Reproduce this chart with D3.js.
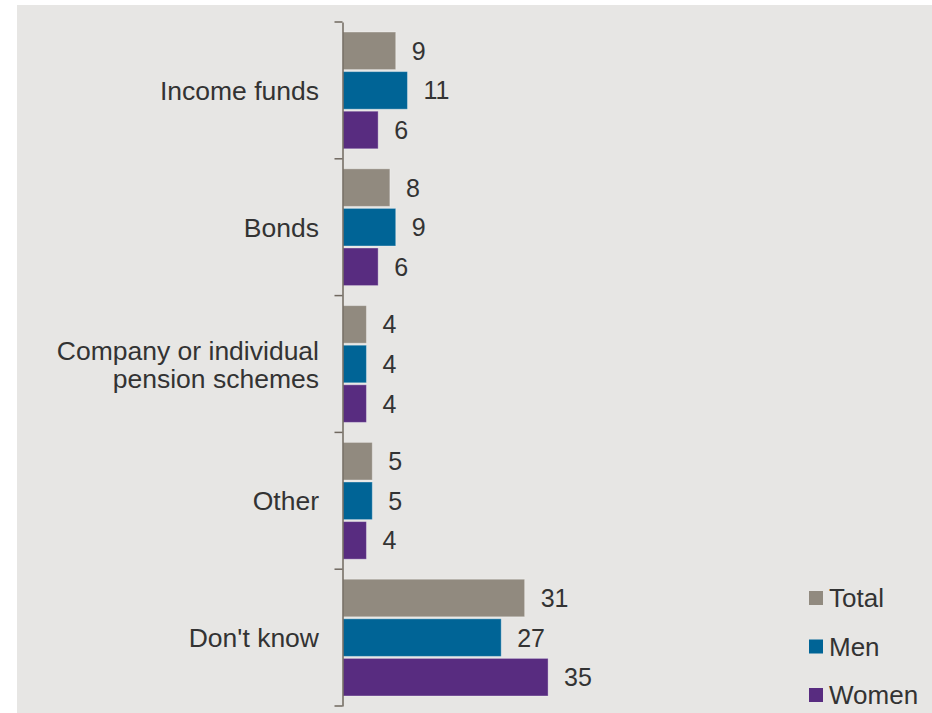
<!DOCTYPE html>
<html>
<head>
<meta charset="utf-8">
<script src="https://cdn.jsdelivr.net/npm/d3@7"></script>
<style>
  html, body { margin: 0; padding: 0; background: #ffffff; }
  svg { display: block; }
  text { font-family: "Liberation Sans", Arial, sans-serif; }
</style>
</head>
<body>
<svg id="chart" width="932" height="713"></svg>
<script>
// Survey answers by category, in percent
const categories = ["Income funds", "Bonds", "Company or individual\npension schemes", "Other", "Don't know"];
const seriesNames = ["Total", "Men", "Women"];
const totalValues = [9, 8, 4, 5, 31];
const menValues = [11, 9, 4, 5, 27];
const womenValues = [6, 6, 4, 4, 35];
const seriesColors = ["#918a7f", "#006496", "#582c80"];

const seriesValues = [totalValues, menValues, womenValues];

const svg = d3.select("#chart");
const W = 932, H = 713;

// panel background
svg.append("rect")
  .attr("x", 17).attr("y", 5)
  .attr("width", W - 17).attr("height", H - 5)
  .attr("fill", "#e7e6e4");

const margin = { left: 343, top: 22, bottom: 706 };

const y = d3.scaleBand()
  .domain(categories)
  .range([margin.top, margin.bottom])
  .paddingInner(0)
  .paddingOuter(0);

const ySub = d3.scaleBand()
  .domain(seriesNames)
  .range([10, y.bandwidth() - 10])
  .paddingInner(0.05);

const x = d3.scaleLinear()
  .domain([0, 35])
  .range([margin.left, margin.left + 35 * 5.86]);

// bars
const groups = svg.append("g").selectAll("g")
  .data(categories)
  .join("g")
  .attr("transform", d => `translate(0,${y(d)})`);

groups.each(function(cat, ci) {
  const g = d3.select(this);
  const rows = seriesNames.map((s, si) => ({ s, si, v: seriesValues[si][ci] }));
  g.selectAll("rect")
    .data(rows)
    .join("rect")
    .attr("x", x(0))
    .attr("y", d => ySub(d.s))
    .attr("width", d => x(d.v) - x(0))
    .attr("height", ySub.bandwidth())
    .attr("fill", d => seriesColors[d.si])
    .attr("stroke", "rgba(255,255,255,0.35)")
    .attr("stroke-width", 1);
  g.selectAll("text.val")
    .data(rows)
    .join("text")
    .attr("class", "val")
    .attr("x", d => x(d.v) + 16)
    .attr("y", d => ySub(d.s) + ySub.bandwidth() / 2)
    .attr("dy", "0.36em")
    .attr("font-size", 25)
    .attr("fill", "#333333")
    .text(d => d.v);
});

// category axis
const axis = d3.axisLeft(y).tickSize(0).tickFormat("");
const axisG = svg.append("g")
  .attr("transform", `translate(${margin.left - 0.5},0)`)
  .call(axis);
axisG.select(".domain").attr("stroke", "#70685f").attr("stroke-width", 1.5);

// tick marks at band boundaries
const boundaries = categories.map(c => y(c)).concat([y.range()[1]]);
axisG.selectAll("line.bound")
  .data(boundaries)
  .join("line")
  .attr("class", "bound")
  .attr("x1", -8).attr("x2", 0)
  .attr("y1", d => d).attr("y2", d => d)
  .attr("stroke", "#70685f")
  .attr("stroke-width", 1.5);

// category labels
svg.append("g").selectAll("text")
  .data(categories)
  .join("text")
  .attr("text-anchor", "end")
  .attr("font-size", 26.5)
  .attr("fill", "#333333")
  .each(function(d) {
    const lines = d.split("\n");
    const cy = y(d) + y.bandwidth() / 2;
    const lh = 28;
    const t = d3.select(this);
    lines.forEach((ln, i) => {
      t.append("tspan")
        .attr("x", 319)
        .attr("y", cy + (i - (lines.length - 1) / 2) * lh)
        .attr("dy", "0.36em")
        .text(ln);
    });
  });

// legend
const legend = svg.append("g").attr("transform", "translate(809,598)");
const li = legend.selectAll("g")
  .data(seriesNames)
  .join("g")
  .attr("transform", (d, i) => `translate(0,${i * 48.5})`);
li.append("rect")
  .attr("x", 0).attr("y", -7)
  .attr("width", 14).attr("height", 14)
  .attr("fill", (d, i) => seriesColors[i]);
li.append("text")
  .attr("x", 20).attr("y", 0)
  .attr("dy", "0.36em")
  .attr("font-size", 26)
  .attr("fill", "#333333")
  .text(d => d);
</script>
</body>
</html>
